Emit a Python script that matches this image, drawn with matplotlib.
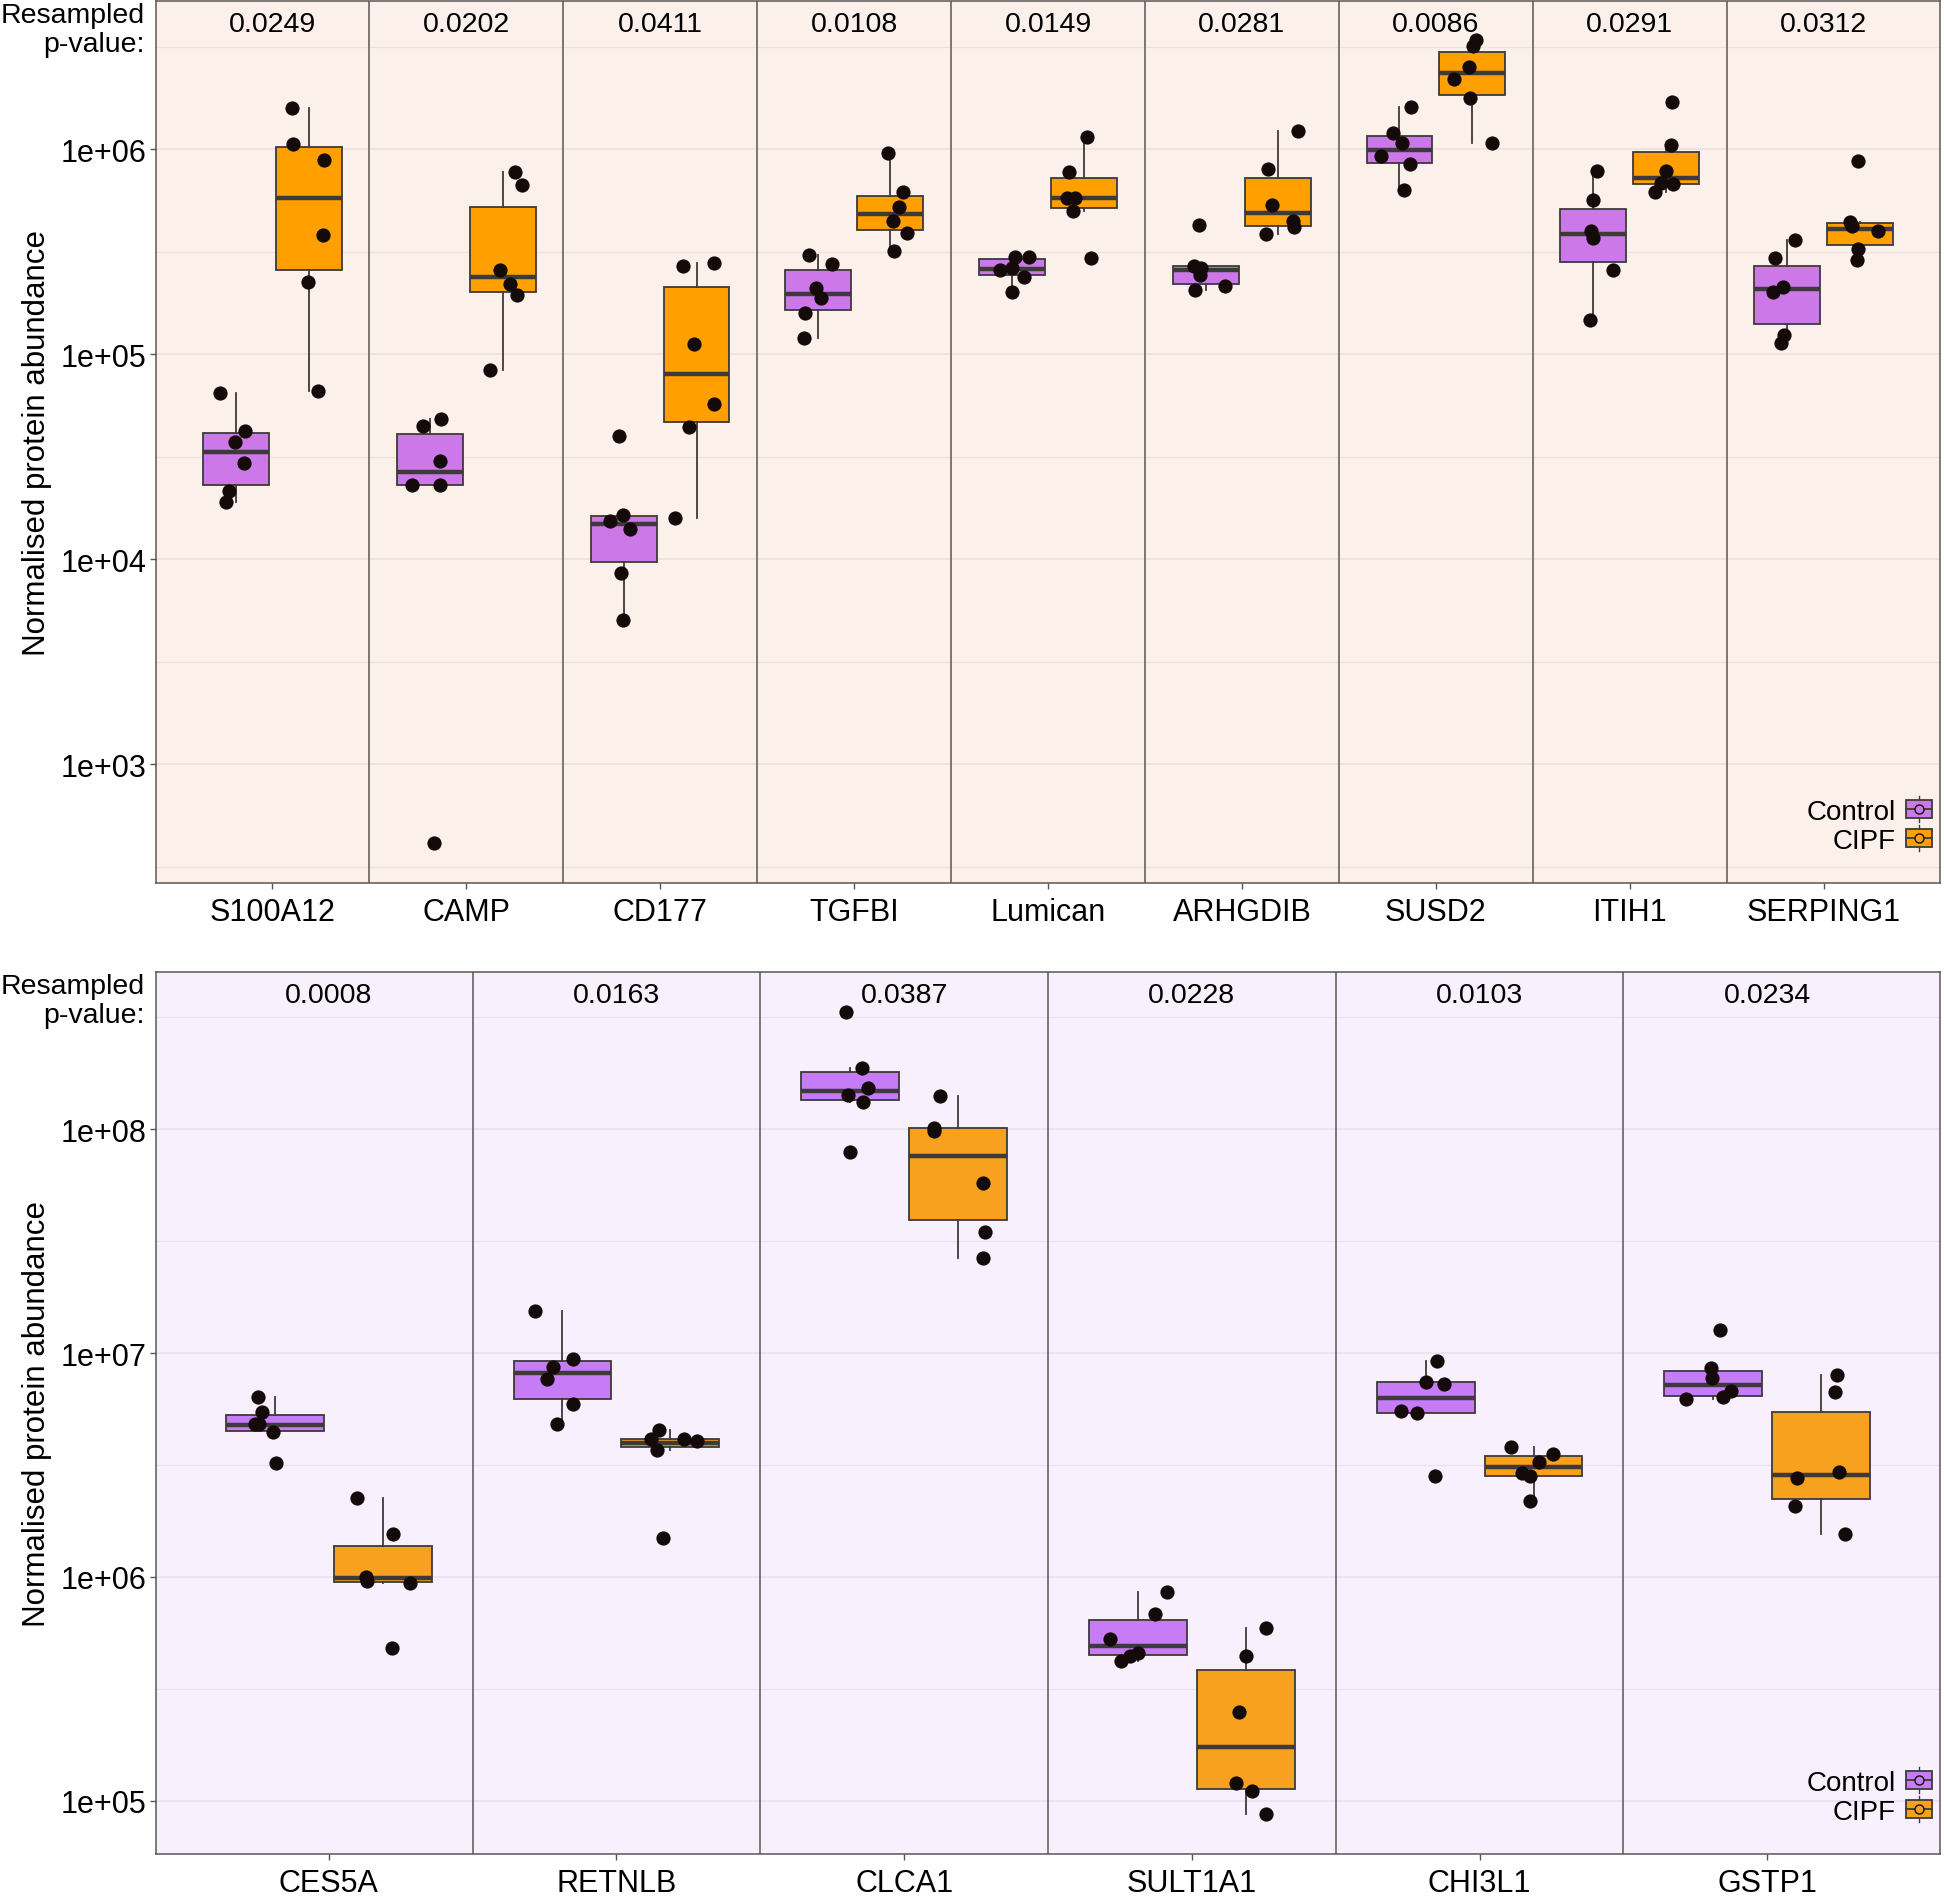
import numpy as np
import matplotlib
matplotlib.use('Agg')
import matplotlib.pyplot as plt
from matplotlib.patches import Patch, Rectangle
from matplotlib.lines import Line2D
from matplotlib.legend_handler import HandlerBase

plt.rcParams['font.family'] = ['Liberation Sans', 'DejaVu Sans']

# ---------------- data ----------------
top_genes = ['S100A12', 'CAMP', 'CD177', 'TGFBI', 'Lumican', 'ARHGDIB', 'SUSD2', 'ITIH1', 'SERPING1']
top_pvals = ['0.0249', '0.0202', '0.0411', '0.0108', '0.0149', '0.0281', '0.0086', '0.0291', '0.0312']

# (q1, median, q3, whisker low, whisker high)
top_ctrl_box = [
    (2.3e4, 3.33e4, 4.11e4, 1.9e4, 6.5e4),
    (2.3e4, 2.65e4, 4.06e4, 2.3e4, 4.85e4),
    (9.7e3, 1.48e4, 1.63e4, 5.05e3, 1.65e4),
    (1.64e5, 1.96e5, 2.56e5, 1.2e5, 3.04e5),
    (2.43e5, 2.6e5, 2.9e5, 2.01e5, 2.98e5),
    (2.2e5, 2.56e5, 2.7e5, 2.06e5, 2.7e5),
    (8.6e5, 9.93e5, 1.16e6, 6.3e5, 1.61e6),
    (2.82e5, 3.87e5, 5.13e5, 1.46e5, 7.83e5),
    (1.41e5, 2.07e5, 2.7e5, 1.14e5, 3.6e5),
]
top_cipf_box = [
    (2.57e5, 5.8e5, 1.02e6, 6.6e4, 1.58e6),
    (2.0e5, 2.37e5, 5.25e5, 8.4e4, 7.7e5),
    (4.65e4, 8.0e4, 2.12e5, 1.58e4, 2.77e5),
    (4.03e5, 4.82e5, 5.92e5, 3.19e5, 9.6e5),
    (5.16e5, 5.75e5, 7.2e5, 5.0e5, 1.15e6),
    (4.2e5, 4.86e5, 7.25e5, 3.85e5, 1.22e6),
    (1.84e6, 2.35e6, 2.98e6, 1.07e6, 3.42e6),
    (6.76e5, 7.22e5, 9.7e5, 6.2e5, 1.05e6),
    (3.4e5, 4.07e5, 4.35e5, 2.88e5, 4.43e5),
]
top_ctrl_pts = [
    [6.5e4, 4.2e4, 3.73e4, 2.93e4, 2.15e4, 1.9e4],
    [4.85e4, 4.47e4, 3.0e4, 2.3e4, 2.3e4, 412],
    [3.98e4, 1.65e4, 1.54e4, 1.41e4, 8.6e3, 5.05e3],
    [3.04e5, 2.75e5, 2.11e5, 1.87e5, 1.58e5, 1.2e5],
    [2.98e5, 2.98e5, 2.64e5, 2.57e5, 2.39e5, 2.01e5],
    [4.27e5, 2.7e5, 2.64e5, 2.43e5, 2.14e5, 2.06e5],
    [1.61e6, 1.2e6, 1.07e6, 9.27e5, 8.48e5, 6.3e5],
    [7.83e5, 5.66e5, 4.0e5, 3.68e5, 2.58e5, 1.46e5],
    [3.6e5, 2.93e5, 2.13e5, 2.0e5, 1.24e5, 1.14e5],
]
top_ctrl_jit = [
    [-0.083, 0.044, -0.007, 0.039, -0.034, -0.05],
    [0.058, -0.037, 0.051, -0.093, 0.051, 0.02],
    [-0.026, -0.006, -0.07, 0.03, -0.013, -0.006],
    [-0.044, 0.074, -0.007, 0.019, -0.065, -0.069],
    [0.016, 0.09, 0.0, -0.062, 0.062, 0.0],
    [-0.035, -0.062, -0.021, -0.028, 0.1, -0.053],
    [0.06, -0.034, 0.013, -0.095, 0.056, 0.022],
    [0.017, 0.0, -0.011, 0.0, 0.1, -0.015],
    [0.039, -0.065, -0.022, -0.075, -0.017, -0.03],
]
top_cipf_pts = [
    [1.58e6, 1.06e6, 8.87e5, 3.8e5, 2.25e5, 6.6e4],
    [7.7e5, 6.7e5, 2.57e5, 2.19e5, 1.95e5, 8.4e4],
    [2.77e5, 2.69e5, 1.12e5, 5.7e4, 4.4e4, 1.58e4],
    [9.6e5, 6.19e5, 5.24e5, 4.47e5, 3.89e5, 3.19e5],
    [1.15e6, 7.76e5, 5.75e5, 5.75e5, 5.0e5, 2.94e5],
    [1.22e6, 8.05e5, 5.37e5, 4.47e5, 4.17e5, 3.85e5],
    [3.42e6, 3.17e6, 2.51e6, 2.19e6, 1.77e6, 1.07e6],
    [1.7e6, 1.05e6, 7.79e5, 6.87e5, 6.76e5, 6.2e5],
    [8.77e5, 4.43e5, 4.23e5, 4.01e5, 3.25e5, 2.88e5],
]
top_cipf_jit = [
    [-0.088, -0.081, 0.079, 0.074, -0.005, 0.049],
    [0.063, 0.1, -0.014, 0.04, 0.074, -0.067],
    [0.09, -0.07, -0.013, 0.09, -0.04, -0.11],
    [-0.012, 0.067, 0.042, 0.012, 0.083, 0.019],
    [0.014, -0.079, -0.09, -0.049, -0.06, 0.035],
    [0.1, -0.051, -0.032, 0.074, 0.083, -0.062],
    [0.019, 0.004, -0.015, -0.092, -0.013, 0.103],
    [0.028, 0.024, 0.0, -0.028, 0.037, -0.058],
    [-0.009, -0.054, -0.043, 0.092, -0.011, -0.015],
]

bot_genes = ['CES5A', 'RETNLB', 'CLCA1', 'SULT1A1', 'CHI3L1', 'GSTP1']
bot_pvals = ['0.0008', '0.0163', '0.0387', '0.0228', '0.0103', '0.0234']

bot_ctrl_box = [
    (4.48e6, 4.78e6, 5.31e6, 4.42e6, 6.38e6),
    (6.26e6, 8.17e6, 9.2e6, 4.84e6, 1.55e7),
    (1.35e8, 1.48e8, 1.8e8, 1.33e8, 1.88e8),
    (4.47e5, 4.9e5, 6.43e5, 4.19e5, 8.58e5),
    (5.4e6, 6.33e6, 7.4e6, 5.4e6, 9.2e6),
    (6.44e6, 7.19e6, 8.32e6, 6.21e6, 8.6e6),
]
bot_cipf_box = [
    (9.47e5, 9.86e5, 1.38e6, 9.43e5, 2.25e6),
    (3.79e6, 3.95e6, 4.15e6, 3.7e6, 4.52e6),
    (3.92e7, 7.63e7, 1.01e8, 2.65e7, 1.41e8),
    (1.13e5, 1.73e5, 3.83e5, 8.7e4, 5.92e5),
    (2.83e6, 3.1e6, 3.48e6, 2.18e6, 3.79e6),
    (2.22e6, 2.86e6, 5.43e6, 1.55e6, 8.0e6),
]
bot_ctrl_pts = [
    [6.38e6, 5.48e6, 4.8e6, 4.8e6, 4.42e6, 3.22e6],
    [1.55e7, 9.42e6, 8.71e6, 7.63e6, 5.9e6, 4.84e6],
    [3.34e8, 1.88e8, 1.53e8, 1.43e8, 1.33e8, 7.95e7],
    [8.58e5, 6.86e5, 5.28e5, 4.55e5, 4.44e5, 4.19e5],
    [9.2e6, 7.46e6, 7.26e6, 5.51e6, 5.4e6, 2.82e6],
    [1.27e7, 8.6e6, 7.76e6, 6.77e6, 6.38e6, 6.21e6],
]
bot_ctrl_jit = [
    [-0.059, -0.043, -0.068, -0.053, -0.005, 0.005],
    [-0.096, 0.036, -0.032, -0.053, 0.037, -0.018],
    [-0.016, 0.041, 0.062, -0.007, 0.043, 0.0],
    [0.1, 0.058, -0.097, 0.0, -0.029, -0.058],
    [0.041, 0.0, 0.064, -0.087, -0.03, 0.032],
    [0.023, -0.008, -0.005, 0.062, 0.033, -0.094],
]
bot_cipf_pts = [
    [2.25e6, 1.55e6, 1.0e6, 9.55e5, 9.43e5, 4.8e5],
    [4.52e6, 4.15e6, 4.15e6, 4.04e6, 3.7e6, 1.5e6],
    [1.41e8, 1.01e8, 9.8e7, 5.77e7, 3.47e7, 2.65e7],
    [5.92e5, 4.42e5, 2.5e5, 1.2e5, 1.11e5, 8.7e4],
    [3.79e6, 3.56e6, 3.25e6, 2.9e6, 2.83e6, 2.18e6],
    [8.0e6, 6.68e6, 2.94e6, 2.77e6, 2.07e6, 1.55e6],
]
bot_cipf_jit = [
    [-0.089, 0.036, -0.059, -0.053, 0.094, 0.032],
    [-0.039, -0.068, 0.046, 0.093, -0.046, -0.025],
    [-0.062, -0.085, -0.084, 0.085, 0.094, 0.085],
    [0.07, 0.0, -0.023, -0.033, 0.021, 0.07],
    [-0.08, 0.066, 0.019, -0.04, -0.012, -0.012],
    [0.053, 0.049, 0.06, -0.084, -0.092, 0.081],
]

groups = ['Control', 'CIPF']

EDGE = '#3d3a3a'
GRAYLINE = '#5a5656'


class BoxKey(HandlerBase):
    # ggplot style boxplot key: box, median line, whisker and a point
    def create_artists(self, legend, orig_handle, xdescent, ydescent,
                       width, height, fontsize, trans):
        fc = orig_handle.get_facecolor()
        cx = width / 2 - xdescent
        cy = height / 2 - ydescent
        bw, bh = width, 12.5
        wl = Line2D([cx, cx], [cy - 9.5, cy + 9.5], color=EDGE, lw=1.0, transform=trans)
        box = Rectangle((cx - bw / 2, cy - bh / 2), bw, bh, facecolor=fc,
                        edgecolor=EDGE, lw=1.3, transform=trans)
        med = Line2D([cx - bw / 2, cx + bw / 2], [cy, cy], color=EDGE, lw=1.3, transform=trans)
        dot = Line2D([cx], [cy], marker='o', ms=6.5, mfc=fc, mec='#111111', mew=1.0,
                     ls='none', transform=trans)
        return [wl, box, med, dot]


def draw_panel(ax, genes, pvals, ctrl_box, cipf_box, ctrl_pts, cipf_pts,
               ctrl_jit, cipf_jit, colors, bg, grid, ylim):
    n = len(genes)
    pos = np.arange(1, n + 1)
    off, bw = 0.1875, 0.34
    ax.set_facecolor(bg)
    ax.set_yscale('log')
    ax.set_xlim(0.4, n + 0.6)
    ax.set_ylim(*ylim)

    lo_dec = int(np.ceil(np.log10(ylim[0])))
    hi_dec = int(np.floor(np.log10(ylim[1])))
    majors = [10.0 ** k for k in range(lo_dec, hi_dec + 1)]
    minors = [10.0 ** (k + 0.5) for k in range(lo_dec - 1, hi_dec + 1)
              if ylim[0] < 10.0 ** (k + 0.5) < ylim[1]]
    for v in majors:
        ax.axhline(v, color=grid, lw=1.3, zorder=0)
    for v in minors:
        ax.axhline(v, color=grid, lw=0.9, zorder=0)
    ax.set_yticks(majors)
    ax.set_yticklabels(['1e+%02d' % int(round(np.log10(v))) for v in majors])
    ax.yaxis.set_minor_locator(matplotlib.ticker.NullLocator())

    for s in np.arange(1.5, n, 1.0):
        ax.axvline(s, color=GRAYLINE, lw=1.1, zorder=1)

    for boxes, pts, jit, sign, col in [(ctrl_box, ctrl_pts, ctrl_jit, -1, colors[0]),
                                       (cipf_box, cipf_pts, cipf_jit, 1, colors[1])]:
        stats = [dict(q1=b[0], med=b[1], q3=b[2], whislo=b[3], whishi=b[4], fliers=[])
                 for b in boxes]
        xp = pos + sign * off
        ax.bxp(stats, positions=xp, widths=bw, patch_artist=True, showcaps=False,
               showfliers=False, manage_ticks=False,
               boxprops=dict(facecolor=col, edgecolor=EDGE, lw=1.3),
               medianprops=dict(color=EDGE, lw=3.2),
               whiskerprops=dict(color=EDGE, lw=1.3), zorder=2)
        for i in range(n):
            ax.scatter(xp[i] + np.array(jit[i]), pts[i], s=105, color='#140a0a',
                       zorder=4, linewidths=0)

    for i, p in enumerate(pvals):
        ax.text(pos[i], 0.974, p, transform=ax.get_xaxis_transform(),
                ha='center', va='center', fontsize=20.5, zorder=5)

    ax.set_xticks(pos)
    ax.set_xticklabels(genes, fontsize=22)
    ax.tick_params(axis='both', length=4, width=1.0, color=GRAYLINE, labelsize=22)
    ax.tick_params(axis='x', pad=6)
    ax.tick_params(axis='y', pad=3)
    for sp in ax.spines.values():
        sp.set_color(GRAYLINE)
        sp.set_linewidth(1.1)
    ax.set_ylabel('Normalised protein abundance', fontsize=22.5, labelpad=6)

    handles = [Patch(facecolor=colors[0]), Patch(facecolor=colors[1])]
    ax.legend(handles, groups, loc='lower right', bbox_to_anchor=(0.9955, 0.033),
              frameon=False, markerfirst=False, borderpad=0, borderaxespad=0,
              handlelength=0.95, handletextpad=0.35, labelspacing=0.12,
              fontsize=20, handler_map={Patch: BoxKey()})


W, H = 1944, 1899
fig = plt.figure(figsize=(W / 100, H / 100), dpi=100)
left = 156 / W
width = (1940 - 156) / W
ax1 = fig.add_axes([left, 1 - 884 / H, width, (884 - 2) / H])
ax2 = fig.add_axes([left, 1 - 1855 / H, width, (1855 - 973) / H])

draw_panel(ax1, top_genes, top_pvals, top_ctrl_box, top_cipf_box,
           top_ctrl_pts, top_cipf_pts, top_ctrl_jit, top_cipf_jit,
           colors=('#CD78E8', '#FFA000'), bg='#FCF0EB', grid='#EFE1DC',
           ylim=(10 ** 2.42, 10 ** 6.723))
draw_panel(ax2, bot_genes, bot_pvals, bot_ctrl_box, bot_cipf_box,
           bot_ctrl_pts, bot_cipf_pts, bot_ctrl_jit, bot_cipf_jit,
           colors=('#C77CF7', '#F8A11E'), bg='#F8F1FD', grid='#EAE2EF',
           ylim=(10 ** 4.762, 10 ** 8.703))

fig.text(145 / W, 1 - 3 / H, 'Resampled\np-value:', ha='right', va='top',
         fontsize=20.5, linespacing=1.15)
fig.text(145 / W, 1 - 974 / H, 'Resampled\np-value:', ha='right', va='top',
         fontsize=20.5, linespacing=1.15)

fig.savefig('out.png', dpi=100, facecolor='white')
